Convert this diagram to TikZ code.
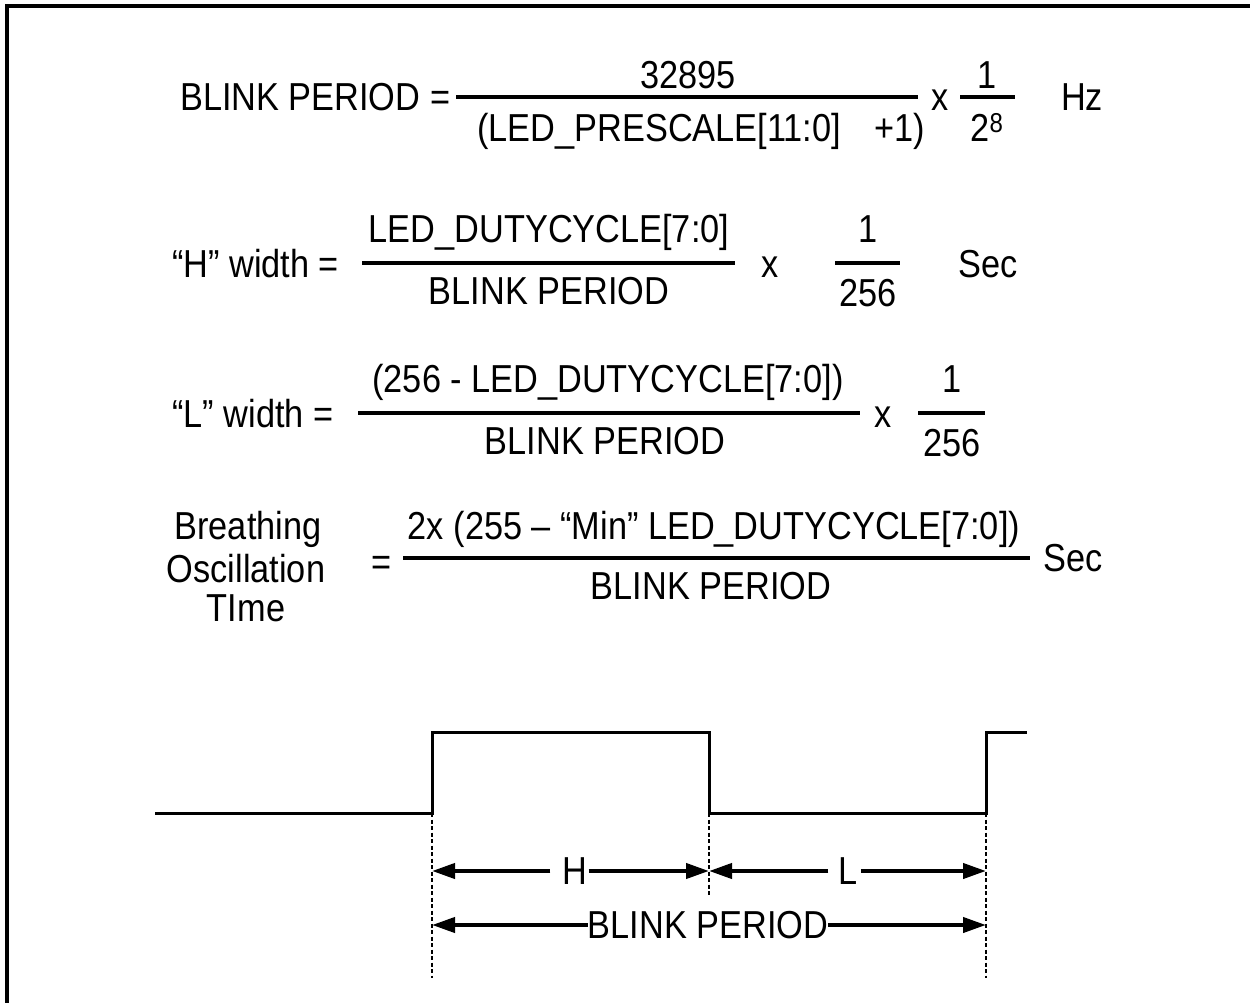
\documentclass[tikz,border=0pt]{standalone}
\usepackage{fontspec}
\setmainfont{Liberation Sans}[FakeStretch=0.88]
\usetikzlibrary{arrows.meta}
\begin{document}
\begin{tikzpicture}[x=1pt,y=-1pt,
  txt/.style={inner sep=0pt,anchor=base,font=\fontsize{39}{42}\selectfont},
  bar/.style={line width=4pt},
  wave/.style={line width=3pt,line join=miter},
  guide/.style={line width=1.3pt,dash pattern=on 4pt off 2.5pt},
  dim/.style={line width=4pt,-{Triangle[length=23pt,width=15pt]}},
  frame/.style={line width=3.5pt}]
\useasboundingbox (0,0) rectangle (1250,1003);
% frame (left and top edges only)
\coordinate (fbl) at (7,1003);
\coordinate (ftl) at (7,6);
\coordinate (ftr) at (1250,6);
\draw[frame] (fbl) -- (ftl) -- (ftr);

% ---------- formula 1 ----------
\node[txt,anchor=base west] (l1) at (180,111) {BLINK PERIOD =};
\coordinate (b1a) at (456,97); \coordinate (b1b) at (918,97);
\draw[bar] (b1a) -- (b1b);
\node[txt] (n1) at (688,89) {32895};
\node[txt] (d1) at (701,142) {(LED\_PRESCALE[11:0]\hspace{0.6em} +1)};
\node[txt] (x1) at (940,111) {x};
\coordinate (c1a) at (960,97); \coordinate (c1b) at (1015,97);
\draw[bar] (c1a) -- (c1b);
\node[txt] (o1) at (987,89) {1};
\node[txt] (e1) at (987,142) {2\textsuperscript{8}};
\node[txt] (hz) at (1082,111) {Hz};

% ---------- formula 2 ----------
\node[txt,anchor=base west] (l2) at (172,277) {“H” width =};
\coordinate (b2a) at (362,263); \coordinate (b2b) at (735,263);
\draw[bar] (b2a) -- (b2b);
\node[txt] (n2) at (549,242) {LED\_DUTYCYCLE[7:0]};
\node[txt] (d2) at (549,304) {BLINK PERIOD};
\node[txt] (x2) at (770,277) {x};
\coordinate (c2a) at (835,263); \coordinate (c2b) at (900,263);
\draw[bar] (c2a) -- (c2b);
\node[txt] (o2) at (868,242) {1};
\node[txt] (e2) at (868,306) {256};
\node[txt] (s2) at (988,277) {Sec};

% ---------- formula 3 ----------
\node[txt,anchor=base west] (l3) at (172,427) {“L” width =};
\coordinate (b3a) at (358,413); \coordinate (b3b) at (860,413);
\draw[bar] (b3a) -- (b3b);
\node[txt] (n3) at (608,392) {(256 - LED\_DUTYCYCLE[7:0])};
\node[txt] (d3) at (605,454) {BLINK PERIOD};
\node[txt] (x3) at (883,427) {x};
\coordinate (c3a) at (918,413); \coordinate (c3b) at (985,413);
\draw[bar] (c3a) -- (c3b);
\node[txt] (o3) at (952,392) {1};
\node[txt] (e3) at (952,456) {256};

% ---------- formula 4 ----------
\node[txt] (t4a) at (248,539) {Breathing};
\node[txt] (t4b) at (246,582) {Oscillation};
\node[txt] (t4c) at (246,621) {TIme};
\node[txt] (eq4) at (382,575) {=};
\coordinate (b4a) at (403,558); \coordinate (b4b) at (1030,558);
\draw[bar] (b4a) -- (b4b);
\node[txt] (n4) at (714,539) {2x (255 – “Min” LED\_DUTYCYCLE[7:0])};
\node[txt] (d4) at (711,599) {BLINK PERIOD};
\node[txt] (s4) at (1073,571) {Sec};

% ---------- waveform ----------
\coordinate (w0) at (155,813);
\coordinate (w1) at (432,813);
\coordinate (w2) at (432,732);
\coordinate (w3) at (709,732);
\coordinate (w4) at (709,813);
\coordinate (w5) at (986,813);
\coordinate (w6) at (986,732);
\coordinate (w7) at (1027,732);
\draw[wave] (w0) -- (w1) -- (w2) -- (w3) -- (w4) -- (w5) -- (w6) -- (w7);

% guide lines
\coordinate (g1) at (432,978);
\coordinate (g2) at (709,895);
\coordinate (g3) at (986,978);
\draw[guide] (w1) -- (g1);
\draw[guide] (w4) -- (g2);
\draw[guide] (w5) -- (g3);

% dimension arrows
\coordinate (h1) at (432,871);
\coordinate (h2) at (709,871);
\coordinate (h3) at (986,871);
\coordinate (p1) at (432,925);
\coordinate (p2) at (986,925);
\node[txt,anchor=center,text height=27pt,text depth=0pt] (H) at (575,871) {H};
\node[txt,anchor=center,text height=27pt,text depth=0pt] (L) at (848,871) {L};
\node[txt,anchor=center,text height=27pt,text depth=0pt] (BP) at (708,925) {BLINK PERIOD};
\draw[dim] ([xshift=-12pt]H.west) -- (h1);
\draw[dim] ([xshift=1pt]H.east) -- (h2);
\draw[dim] ([xshift=-10pt]L.west) -- (h2);
\draw[dim] ([xshift=3pt]L.east) -- (h3);
\draw[dim] (BP.west) -- (p1);
\draw[dim] (BP.east) -- (p2);
\end{tikzpicture}
\end{document}
